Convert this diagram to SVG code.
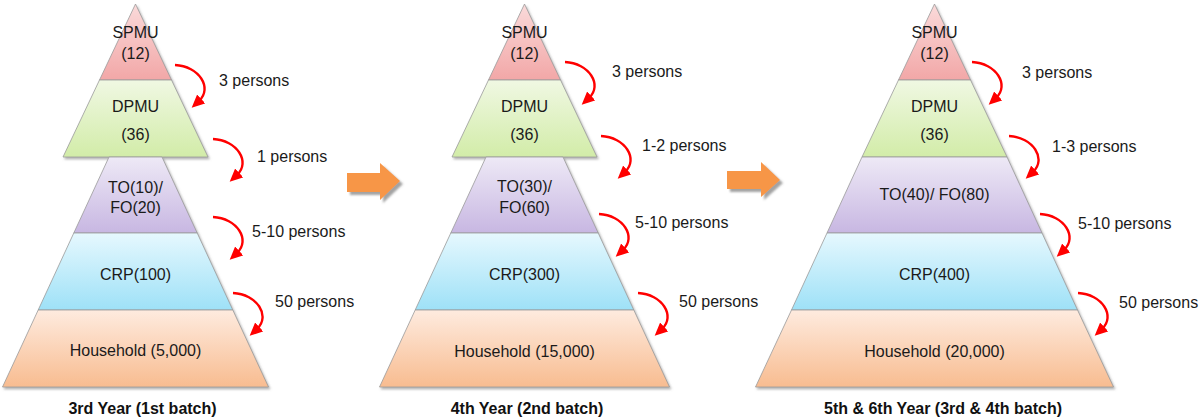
<svg xmlns="http://www.w3.org/2000/svg" xmlns:xlink="http://www.w3.org/1999/xlink" width="1200" height="419" viewBox="0 0 1200 419">
  <style>
    .lbl { font-family: "Liberation Sans", Arial, sans-serif; font-size: 16px; fill: #1a1a1a; text-anchor: middle; }
    .note { font-family: "Liberation Sans", Arial, sans-serif; font-size: 16px; fill: #1a1a1a; }
    .title { font-family: "Liberation Sans", Arial, sans-serif; font-size: 16px; font-weight: bold; fill: #111; text-anchor: middle; }
    .band { stroke: #9a9a9a; stroke-width: 0.8; filter: url(#shadow); }
    .spmu { fill: url(#gSpmu); }
    .dpmu { fill: url(#gDpmu); }
    .tofo { fill: url(#gTofo); }
    .crp { fill: url(#gCrp); }
    .hh { fill: url(#gHh); }
    .curl { fill: none; stroke: #ff0000; stroke-width: 2.4; marker-end: url(#redHead); }
    .step { fill: #f79646; filter: url(#arrowShadow); }
  </style>
  <defs>
    <linearGradient id="gSpmu" x1="0" y1="0" x2="0" y2="1">
      <stop offset="0" stop-color="#fadada"/>
      <stop offset="1" stop-color="#f2a7a7"/>
    </linearGradient>
    <linearGradient id="gDpmu" x1="0" y1="0" x2="0" y2="1">
      <stop offset="0" stop-color="#f0f8e3"/>
      <stop offset="1" stop-color="#d2eca8"/>
    </linearGradient>
    <linearGradient id="gTofo" x1="0" y1="0" x2="0" y2="1">
      <stop offset="0" stop-color="#eee9f6"/>
      <stop offset="1" stop-color="#c8b7e2"/>
    </linearGradient>
    <linearGradient id="gCrp" x1="0" y1="0" x2="0" y2="1">
      <stop offset="0" stop-color="#e6f8fe"/>
      <stop offset="1" stop-color="#9ee1f7"/>
    </linearGradient>
    <linearGradient id="gHh" x1="0" y1="0" x2="0" y2="1">
      <stop offset="0" stop-color="#feebdf"/>
      <stop offset="1" stop-color="#f8bc90"/>
    </linearGradient>
    <filter id="shadow" x="-10%" y="-10%" width="120%" height="130%">
      <feDropShadow dx="1.5" dy="2" stdDeviation="0.8" flood-color="#777" flood-opacity="0.55"/>
    </filter>
    <filter id="arrowShadow" x="-20%" y="-20%" width="150%" height="150%">
      <feDropShadow dx="3" dy="3" stdDeviation="1" flood-color="#666" flood-opacity="0.6"/>
    </filter>
    <marker id="redHead" markerUnits="userSpaceOnUse" markerWidth="14" markerHeight="14" viewBox="0 0 14 14" refX="3" refY="7" orient="auto">
      <path d="M0,1 L13,7 L0,13 Z" fill="#ff0000"/>
    </marker>
    <!-- curved hand-off arrow, drawn from its start point -->
    <path id="curl" class="curl" d="M0,0 C24,1 38,23 24,36"/>
  </defs>

  <!-- Pyramid 1: 3rd Year -->
  <g id="pyramid-year3">
    <g id="p1-spmu"><polygon class="band spmu" points="135.5,4 171.5,80 99.5,80"/>
      <text class="lbl" x="135.5" y="38">SPMU</text><text class="lbl" x="135.5" y="59">(12)</text></g>
    <g id="p1-dpmu"><polygon class="band dpmu" points="99.5,80 171.5,80 208,157 63,157"/>
      <text class="lbl" x="135.5" y="112">DPMU</text><text class="lbl" x="135.5" y="140">(36)</text></g>
    <g id="p1-tofo"><polygon class="band tofo" points="109,157 162,157 197.2,233 73.8,233"/>
      <text class="lbl" x="135.5" y="193">TO(10)/</text><text class="lbl" x="135.5" y="213">FO(20)</text></g>
    <g id="p1-crp"><polygon class="band crp" points="73.8,233 197.2,233 232.8,310 38.2,310"/>
      <text class="lbl" x="135.5" y="280">CRP(100)</text></g>
    <g id="p1-hh"><polygon class="band hh" points="38.2,310 232.8,310 268.5,387 2.5,387"/>
      <text class="lbl" x="135.5" y="356">Household (5,000)</text></g>
    <text class="title" x="142.5" y="414">3rd Year (1st batch)</text>
  </g>

  <!-- Pyramid 2: 4th Year -->
  <g id="pyramid-year4">
    <g id="p2-spmu"><polygon class="band spmu" points="524.5,4 560.5,80 488.5,80"/>
      <text class="lbl" x="524.5" y="38">SPMU</text><text class="lbl" x="524.5" y="59">(12)</text></g>
    <g id="p2-dpmu"><polygon class="band dpmu" points="488.5,80 560.5,80 597,157 452,157"/>
      <text class="lbl" x="524.5" y="112">DPMU</text><text class="lbl" x="524.5" y="140">(36)</text></g>
    <g id="p2-tofo"><polygon class="band tofo" points="486,157 563,157 598.2,233 450.8,233"/>
      <text class="lbl" x="524.5" y="192">TO(30)/</text><text class="lbl" x="524.5" y="213">FO(60)</text></g>
    <g id="p2-crp"><polygon class="band crp" points="450.8,233 598.2,233 633.8,310 415.2,310"/>
      <text class="lbl" x="524.5" y="280">CRP(300)</text></g>
    <g id="p2-hh"><polygon class="band hh" points="415.2,310 633.8,310 669.5,387 379.5,387"/>
      <text class="lbl" x="524.5" y="357">Household (15,000)</text></g>
    <text class="title" x="527" y="414">4th Year (2nd batch)</text>
  </g>

  <!-- Pyramid 3: 5th & 6th Year -->
  <g id="pyramid-year56">
    <g id="p3-spmu"><polygon class="band spmu" points="934.5,4 970.5,80 898.5,80"/>
      <text class="lbl" x="934.5" y="38">SPMU</text><text class="lbl" x="934.5" y="59">(12)</text></g>
    <g id="p3-dpmu"><polygon class="band dpmu" points="898.5,80 970.5,80 1007,157 862,157"/>
      <text class="lbl" x="934.5" y="112">DPMU</text><text class="lbl" x="934.5" y="140">(36)</text></g>
    <g id="p3-tofo"><polygon class="band tofo" points="862,157 1007,157 1042,233 827,233"/>
      <text class="lbl" x="934.5" y="200">TO(40)/ FO(80)</text></g>
    <g id="p3-crp"><polygon class="band crp" points="827,233 1042,233 1077.5,310 791.5,310"/>
      <text class="lbl" x="934.5" y="280">CRP(400)</text></g>
    <g id="p3-hh"><polygon class="band hh" points="791.5,310 1077.5,310 1113.5,387 755.5,387"/>
      <text class="lbl" x="934.5" y="357">Household (20,000)</text></g>
    <text class="title" x="943" y="414">5th &amp; 6th Year (3rd &amp; 4th batch)</text>
  </g>

  <!-- Connectors: hand-off arrows between levels and progression arrows -->
  <g id="connectors">
    <use href="#curl" x="175" y="65"/>
    <use href="#curl" x="213" y="139"/>
    <use href="#curl" x="213" y="217"/>
    <use href="#curl" x="233" y="293"/>

    <use href="#curl" x="565" y="62"/>
    <use href="#curl" x="601" y="136"/>
    <use href="#curl" x="599" y="214"/>
    <use href="#curl" x="638" y="293"/>

    <use href="#curl" x="972" y="62"/>
    <use href="#curl" x="1009" y="136"/>
    <use href="#curl" x="1040" y="214"/>
    <use href="#curl" x="1078" y="293"/>

    <polygon class="step" points="347,173 380,173 380,163 400,181 380,200 380,192 347,192"/>
    <polygon class="step" points="727,171 761,171 761,162 780,180 761,197 761,189 727,189"/>
  </g>

  <!-- Hand-off counts -->
  <g id="counts">
    <text class="note" x="219" y="86">3 persons</text>
    <text class="note" x="257" y="162">1 persons</text>
    <text class="note" x="252" y="237">5-10 persons</text>
    <text class="note" x="275" y="307">50 persons</text>

    <text class="note" x="612" y="77">3 persons</text>
    <text class="note" x="642" y="151">1-2 persons</text>
    <text class="note" x="635" y="228">5-10 persons</text>
    <text class="note" x="679" y="307">50 persons</text>

    <text class="note" x="1022" y="78">3 persons</text>
    <text class="note" x="1052" y="152">1-3 persons</text>
    <text class="note" x="1078" y="229">5-10 persons</text>
    <text class="note" x="1119" y="308">50 persons</text>
  </g>
</svg>
